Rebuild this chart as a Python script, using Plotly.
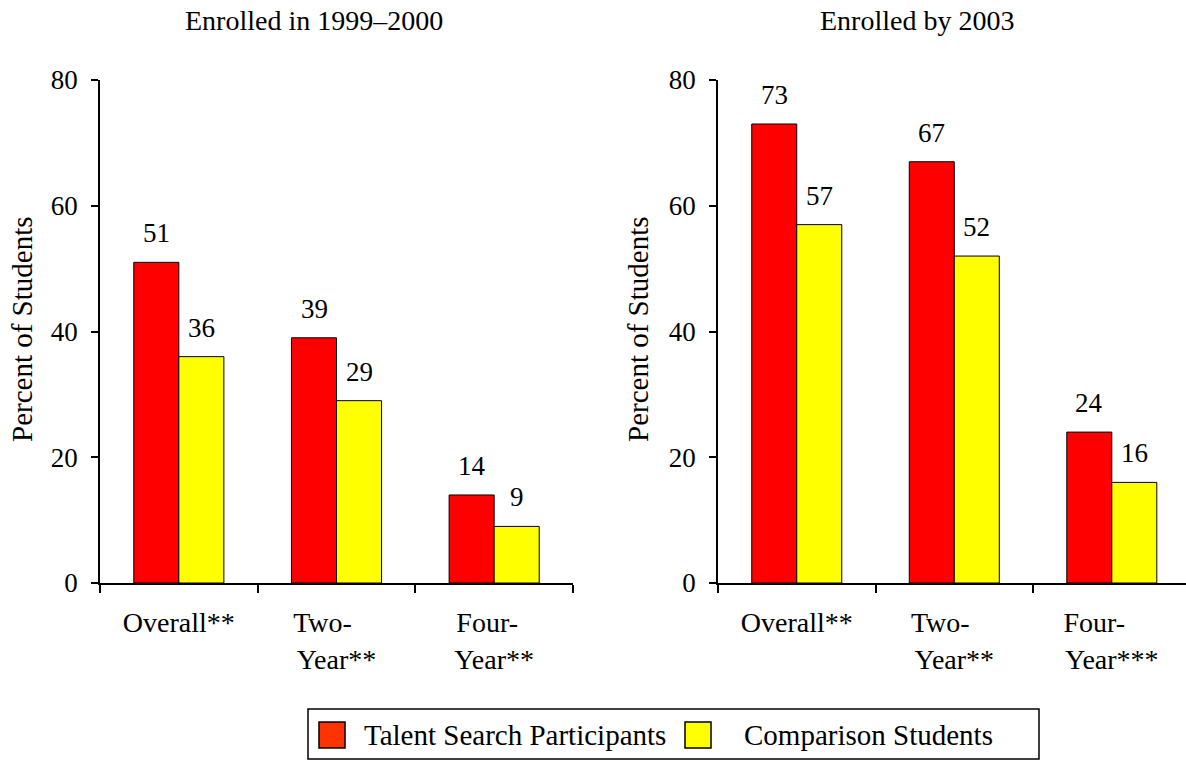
import plotly.graph_objects as go

# ---- data ----
categories = ["Overall", "Two-Year", "Four-Year"]
labels_1999 = ["Overall**", "Two-\u00a0\u00a0\u00a0\u00a0<br>Year**", "Four-\u00a0\u00a0<br>Year**"]
labels_2003 = ["Overall**", "Two-\u00a0\u00a0\u00a0\u00a0<br>Year**", "Four-\u00a0\u00a0\u00a0\u00a0\u00a0<br>Year***"]
ts_1999 = [51, 39, 14]
comp_1999 = [36, 29, 9]
ts_2003 = [73, 67, 24]
comp_2003 = [57, 52, 16]
panel_titles = ["Enrolled in 1999\u20132000", "Enrolled by 2003"]
series_names = ["Talent Search Participants", "Comparison Students"]
y_ticks = [0, 20, 40, 60, 80]

RED = "#FF0000"
YELLOW = "#FFFF00"
FONT = "Liberation Serif, Times New Roman, serif"
W, H = 1186, 761


def px_x(p):
    return p / W


def px_y(p):
    return 1 - p / H


fig = go.Figure()

panels = [
    ("x", "y", ts_1999, comp_1999),
    ("x2", "y2", ts_2003, comp_2003),
]
for xa, ya, ts, cp in panels:
    fig.add_trace(go.Bar(x=categories, y=ts, name=series_names[0], marker=dict(color=RED, line=dict(color="black", width=1)),
                         xaxis=xa, yaxis=ya, showlegend=False, hoverinfo="x+y"))
    fig.add_trace(go.Bar(x=categories, y=cp, name=series_names[1], marker=dict(color=YELLOW, line=dict(color="black", width=1)),
                         xaxis=xa, yaxis=ya, showlegend=False, hoverinfo="x+y"))

annotations = []
# value labels above bars
for xa, ya, ts, cp in panels:
    for cat, a, b in zip(categories, ts, cp):
        for val, shift in ((a, -22.5), (b, 22.5)):
            annotations.append(dict(x=cat, y=val, xref=xa, yref=ya, text=str(val), showarrow=False,
                                    xshift=shift, yshift=12, yanchor="bottom", xanchor="center",
                                    font=dict(family=FONT, size=27, color="black")))

# panel titles
for txt, cx in zip(panel_titles, [314, 916.5]):
    annotations.append(dict(x=px_x(cx), y=px_y(21), xref="paper", yref="paper", text=txt, showarrow=False,
                            xanchor="center", yanchor="middle", font=dict(family=FONT, size=28, color="black")))

# y-axis titles
for cx in [22, 638]:
    annotations.append(dict(x=px_x(cx), y=px_y(329), xref="paper", yref="paper", text="Percent of Students",
                            showarrow=False, textangle=-90, xanchor="center", yanchor="middle",
                            font=dict(family=FONT, size=29, color="black")))

# custom legend
shapes = [
    dict(type="rect", xref="paper", yref="paper", x0=px_x(308), x1=px_x(1039), y0=px_y(759), y1=px_y(709),
         line=dict(color="black", width=1.5), fillcolor="white", layer="below"),
    dict(type="rect", xref="paper", yref="paper", x0=px_x(319), x1=px_x(345), y0=px_y(748), y1=px_y(722),
         line=dict(color="black", width=1.5), fillcolor="#FF3300"),
    dict(type="rect", xref="paper", yref="paper", x0=px_x(685), x1=px_x(711), y0=px_y(748), y1=px_y(722),
         line=dict(color="black", width=1.5), fillcolor=YELLOW),
]
for txt, lx in zip(series_names, [362, 742]):
    annotations.append(dict(x=px_x(lx), y=px_y(735), xref="paper", yref="paper", text=txt, showarrow=False,
                            xanchor="left", yanchor="middle", font=dict(family=FONT, size=29, color="black")))

common_x = dict(type="category", tickson="boundaries", ticks="outside", ticklen=8, tickwidth=1.5, tickcolor="black",
                showline=True, linecolor="black", linewidth=1.5, showgrid=False, zeroline=False,
                tickfont=dict(family=FONT, size=28, color="black"), tickmode="array", tickvals=categories,
                ticklabelstandoff=14, fixedrange=True, automargin=False)
common_y = dict(range=[0, 80], tickvals=y_ticks, ticks="outside", ticklen=7, tickwidth=1.5, tickcolor="black",
                showline=True, linecolor="black", linewidth=1.5, showgrid=False, zeroline=False,
                tickfont=dict(family=FONT, size=27, color="black"), ticklabelstandoff=8,
                fixedrange=True, automargin=False)

fig.update_layout(
    template="none",
    width=W, height=H,
    margin=dict(l=0, r=0, t=0, b=0, pad=0, autoexpand=False),
    paper_bgcolor="white", plot_bgcolor="white",
    barmode="group", bargap=0.4286, bargroupgap=0,
    showlegend=False,
    xaxis=dict(common_x, domain=[px_x(100), px_x(573)], range=[-0.5, 2.5], ticktext=labels_1999, anchor="y"),
    yaxis=dict(common_y, domain=[px_y(583), px_y(80)], anchor="x"),
    xaxis2=dict(common_x, domain=[px_x(718), 1.0], range=[-0.5, 2.471], ticktext=labels_2003, anchor="y2"),
    yaxis2=dict(common_y, domain=[px_y(583), px_y(80)], anchor="x2"),
    annotations=annotations,
    shapes=shapes,
    font=dict(family=FONT, color="black"),
)

fig.write_html("out.html", config={"displayModeBar": False},
               post_script="document.body.style.margin='0';document.body.style.overflow='hidden';")
